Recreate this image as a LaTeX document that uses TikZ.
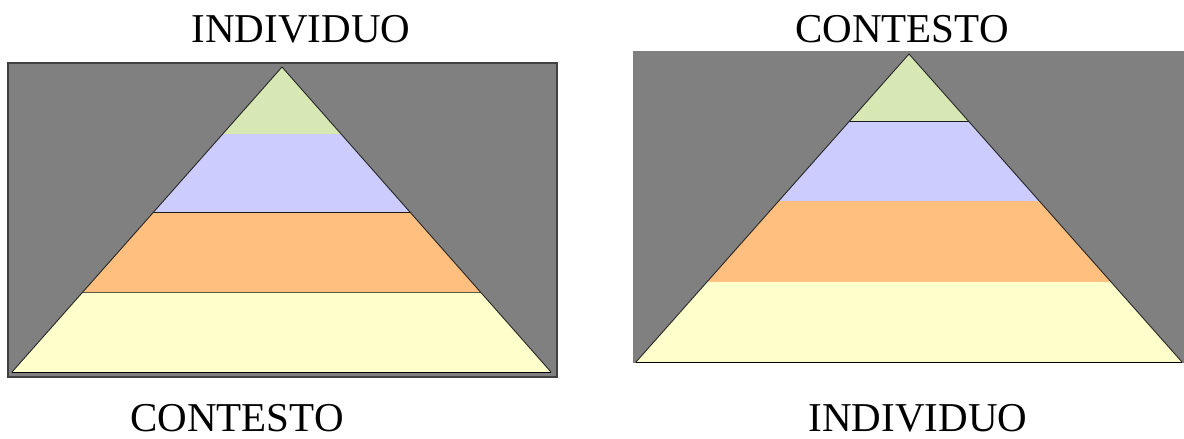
\documentclass[tikz,border=0pt]{standalone}
\usepackage{fontspec}
\setmainfont{Liberation Serif}
\usetikzlibrary{calc}
\definecolor{tipgreen}{HTML}{D7E8B5}
\definecolor{lavender}{HTML}{CCCCFF}
\definecolor{apricot}{HTML}{FFBF7F}
\definecolor{paleyel}{HTML}{FFFFCC}
\definecolor{panelgrey}{HTML}{808080}
\tikzset{
  panel/.style = {fill=panelgrey},
  band/.style  = {draw=black, line width=0.8pt},
  edge/.style  = {draw=black!85, line width=0.9pt, line join=miter},
  ttl/.style   = {anchor=base, inner sep=0pt, font=\fontsize{41}{41}\selectfont},
}
% pyramid: apex, base left, base right
\newcommand{\pyramid}[3]{%
  \foreach \ta/\tb/\col in {0/0.22/tipgreen, 0.22/0.478/lavender, 0.478/0.74/apricot, 0.74/1/paleyel} {
    \fill[fill=\col] ($(#1)!\ta!(#2)$) -- ($(#1)!\tb!(#2)$) -- ($(#1)!\tb!(#3)$) -- ($(#1)!\ta!(#3)$) -- cycle;
    \draw[band] ($(#1)!\tb!(#2)$) -- ($(#1)!\tb!(#3)$);
  }
  \draw[edge] (#2) -- (#1) -- (#3);
}

\begin{document}
\begin{tikzpicture}[x=1pt, y=-1pt]
  \useasboundingbox (0,0) rectangle (1184,439);

  % left panel
  \fill[panel] (8,63) rectangle (557,377);
  \draw[black!75, line width=2pt] (8,63) rectangle (557,377);
  \coordinate (lapex) at (282,67);
  \coordinate (lleft) at (12,372);
  \coordinate (lright) at (551,372);
  \pyramid{lapex}{lleft}{lright}
  \node[ttl] (ltop) at (301,42) {INDIVIDUO};
  \node[ttl] (lbot) at (237,431) {CONTESTO};

  % right panel
  \fill[panel] (633,51) rectangle (1184,363);
  \coordinate (rapex) at (909,54);
  \coordinate (rleft) at (636,362);
  \coordinate (rright) at (1182,362);
  \pyramid{rapex}{rleft}{rright}
  \node[ttl] (rtop) at (902,42) {CONTESTO};
  \node[ttl] (rbot) at (918,431) {INDIVIDUO};
\end{tikzpicture}
\end{document}
